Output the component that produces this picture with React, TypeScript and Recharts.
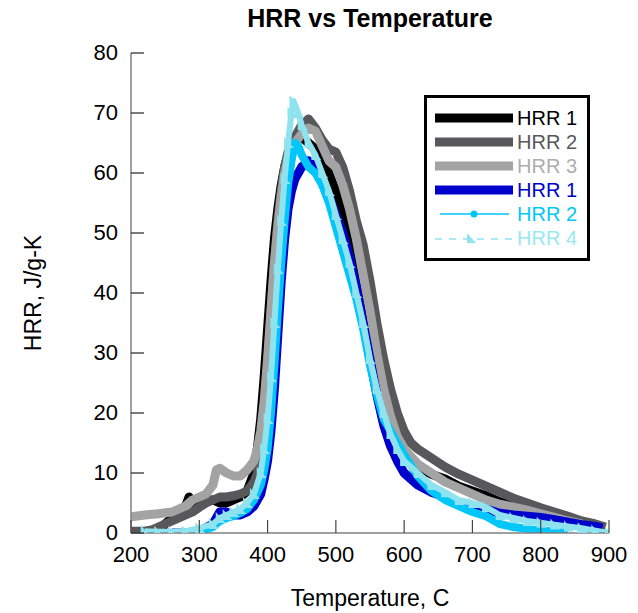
import { LineChart, Line, XAxis, YAxis } from 'recharts';

const FONT = '"Liberation Sans", Arial, Helvetica, sans-serif';

// temperature (C) and HRR (J/g-K), one pair of arrays per run
const blackT = [243, 250, 260, 270, 280, 285, 290, 300, 310, 320, 330, 340, 350, 360, 370, 380, 385, 390, 395, 400, 405, 410, 415, 420, 425, 430, 435, 440, 450, 460, 470, 480, 490, 500, 510, 520, 530, 540, 550, 560, 570, 580, 590, 600, 620, 640, 660, 680, 700, 720, 740, 760, 780, 800, 820, 840, 860];
const blackH = [0.5, 1.5, 2.5, 3.5, 4.5, 6, 5, 5, 5.5, 5.5, 5, 5, 5.5, 6, 7, 10, 14, 19, 26, 34, 42, 49, 54, 58, 61, 63, 64.5, 65.5, 66, 65, 64, 62, 60, 57, 54, 51, 47, 41, 33, 27, 21, 16.5, 14, 12.5, 10.8, 9.8, 9, 7.8, 7, 6.2, 5.2, 4.6, 4, 3.5, 3, 2.3, 1.5];

const darkT = [200, 210, 220, 230, 240, 250, 260, 270, 280, 290, 300, 310, 320, 330, 340, 350, 360, 370, 380, 385, 390, 395, 400, 405, 410, 415, 420, 425, 430, 440, 450, 460, 470, 480, 490, 500, 510, 520, 530, 540, 550, 560, 570, 580, 590, 600, 610, 620, 640, 660, 680, 700, 720, 740, 760, 780, 800, 820, 840, 860, 880, 895];
const darkH = [0.3, 0.3, 0.3, 0.5, 1, 1.5, 2, 2.5, 3, 3.5, 4.3, 5, 5.5, 6, 6, 6.2, 6.5, 7, 8.5, 10, 14, 20, 28, 37, 45, 52, 57, 61, 63.5, 66, 68, 69, 67.5, 65.5, 64, 63.5, 61, 57, 52, 48, 42, 35, 29, 24, 20, 17, 15, 14, 12.5, 11, 9.8, 8.8, 7.8, 6.8, 5.8, 5, 4.2, 3.5, 2.8, 2, 1.5, 1];

const lightT = [200, 220, 240, 260, 270, 280, 290, 300, 310, 320, 325, 330, 340, 350, 360, 370, 380, 385, 390, 395, 400, 405, 410, 415, 420, 425, 430, 440, 450, 460, 470, 480, 490, 500, 510, 520, 530, 540, 550, 560, 570, 580, 590, 600, 620, 640, 660, 680, 700, 720, 740, 760, 780, 800, 820, 840, 860];
const lightH = [2.7, 3, 3.2, 3.5, 4, 4.5, 5.5, 6, 6.5, 8, 10.5, 10.8, 10, 9.5, 9.5, 10.5, 12, 14, 17, 22, 29, 37, 45, 51, 56, 60, 62.5, 65, 66.5, 67.5, 67, 64.5, 62, 61, 58, 54, 49, 43, 37, 30, 24, 19.5, 16, 14, 11.5, 10, 8.5, 7.5, 6.5, 5.5, 4.8, 4.3, 3.8, 3.2, 2.6, 2, 1.5];

const blueT = [260, 280, 300, 320, 330, 340, 350, 360, 370, 380, 390, 395, 400, 405, 410, 415, 420, 425, 430, 435, 440, 450, 460, 470, 480, 490, 500, 510, 520, 530, 540, 550, 560, 570, 580, 590, 600, 620, 640, 660, 680, 700, 720, 740, 760, 780, 800, 820, 840, 860, 880, 890];
const blueH = [0, 0, 0.3, 1.5, 3.5, 3.5, 3, 3, 3.5, 4.5, 6.5, 9, 12, 17, 24, 33, 42, 49, 54, 57, 59, 61, 62, 61, 59, 56, 53, 50, 46, 41, 35, 29, 23, 18, 14.5, 12, 10, 8, 6.8, 6, 5, 4.5, 4, 3.3, 3, 2.8, 2.6, 2.2, 1.8, 1.4, 1.1, 0.8];

const cyanT = [250, 270, 300, 320, 330, 340, 350, 360, 370, 380, 390, 395, 400, 405, 410, 415, 420, 425, 430, 435, 440, 445, 450, 460, 470, 480, 490, 500, 510, 520, 530, 540, 550, 560, 570, 580, 590, 600, 620, 640, 660, 680, 700, 720, 740, 760, 780, 800, 820, 840];
const cyanH = [0, 0, 0.2, 1, 2, 2.5, 2.8, 3.3, 4, 5.5, 8, 10.5, 14, 20, 28, 37, 45, 52, 58, 62, 65, 64.5, 63, 61, 60, 58, 55, 51, 47, 43, 39, 34, 28, 23, 19, 17, 15, 13, 9.5, 7, 5.5, 4.5, 3.5, 2.8, 1.5, 1, 0.7, 0.4, 0.2, 0];

const paleT = [220, 240, 260, 280, 300, 320, 330, 340, 350, 360, 370, 380, 390, 395, 400, 405, 410, 415, 420, 425, 430, 435, 438, 445, 450, 460, 470, 480, 490, 500, 510, 520, 530, 540, 550, 560, 570, 580, 590, 600, 620, 640, 660, 680, 700, 720, 740, 760, 780, 800, 820, 840, 860, 880, 900];
const paleH = [0.3, 0.2, 0.2, 0.3, 0.8, 1.5, 2.5, 3, 3.5, 4, 5, 6.5, 10, 14, 19, 26, 35, 44, 52, 59, 65, 70, 72, 70, 68, 65, 63, 60, 57, 53, 49, 45, 40, 35, 29, 24, 20, 16.5, 14, 12, 10, 8, 6.8, 5.5, 5, 4.3, 3, 2.5, 2, 1.7, 1.4, 1.1, 0.8, 0.4, 0];

const xTicks = [200, 300, 400, 500, 600, 700, 800, 900];
const yTicks = [0, 10, 20, 30, 40, 50, 60, 70, 80];

const zip = (t: number[], h: number[]) => t.map((v, i) => ({ t: v, h: h[i] }));

const series = [
  { key: 'b1', name: 'HRR 1', data: zip(blackT, blackH), color: '#000000', text: '#000000', width: 9, kind: 'thick' },
  { key: 'g2', name: 'HRR 2', data: zip(darkT, darkH), color: '#58585a', text: '#58585a', width: 9, kind: 'thick' },
  { key: 'g3', name: 'HRR 3', data: zip(lightT, lightH), color: '#a3a3a3', text: '#adadad', width: 9, kind: 'thick' },
  { key: 'u1', name: 'HRR 1', data: zip(blueT, blueH), color: '#0000cc', text: '#0000cc', width: 9, kind: 'thick' },
  { key: 'c2', name: 'HRR 2', data: zip(cyanT, cyanH), color: '#00c6fa', text: '#00c6fa', width: 8, kind: 'dot' },
  { key: 'p4', name: 'HRR 4', data: zip(paleT, paleH), color: '#8fe3ee', text: '#99e8f0', width: 6, kind: 'tri' },
];

function XTick(props: any) {
  const { x, y, payload } = props;
  return (
    <g>
      <line x1={x} y1={y} x2={x} y2={y - 13} stroke="#444" strokeWidth={1.2} />
      <text x={x} y={y + 29} textAnchor="middle" fontSize={22} fontFamily={FONT} fill="#000">
        {payload.value}
      </text>
    </g>
  );
}

function YTick(props: any) {
  const { x, y, payload } = props;
  return (
    <g>
      <line x1={x} y1={y} x2={x + 13} y2={y} stroke="#222" strokeWidth={1.2} />
      <text x={x - 13} y={y + 7} textAnchor="end" fontSize={22} fontFamily={FONT} fill="#000">
        {payload.value}
      </text>
    </g>
  );
}

const triangleDot = (color: string) => (p: any) => {
  const { cx, cy, index } = p;
  if (cx == null || cy == null) return <g key={`t-${index}`} />;
  return (
    <polygon
      key={`t-${index}`}
      points={`${cx - 4},${cy - 6} ${cx - 4},${cy + 5} ${cx + 6},${cy + 5}`}
      fill={color}
    />
  );
};

function LegendBox() {
  return (
    <div
      style={{
        position: 'absolute',
        left: 424,
        top: 95,
        width: 166,
        height: 166,
        boxSizing: 'border-box',
        border: '3px solid #000',
        background: '#fff',
        fontFamily: FONT,
      }}
    >
      {series.map((s, i) => (
        <div key={s.key} style={{ position: 'absolute', left: 8, top: 8 + i * 24, height: 24, display: 'flex', alignItems: 'center' }}>
          <svg width={80} height={24}>
            {s.kind === 'thick' && <line x1={0} y1={12} x2={78} y2={12} stroke={s.color} strokeWidth={9} />}
            {s.kind === 'dot' && (
              <g>
                <line x1={5} y1={12} x2={74} y2={12} stroke={s.color} strokeWidth={1.5} />
                <circle cx={39} cy={12} r={3.5} fill={s.color} />
              </g>
            )}
            {s.kind === 'tri' && (
              <g>
                <line x1={0} y1={13} x2={78} y2={13} stroke={s.color} strokeWidth={1.5} strokeDasharray="7 7" />
                <polygon points="32,7 32,17 41,17" fill={s.color} />
              </g>
            )}
          </svg>
          <span style={{ fontSize: 20, color: s.text, marginLeft: 2, lineHeight: '24px' }}>{s.name}</span>
        </div>
      ))}
    </div>
  );
}

export default function App() {
  return (
    <div style={{ position: 'absolute', left: 0, top: 0, width: 638, height: 613, background: '#fff' }}>
      <div
        style={{
          position: 'absolute',
          left: 131,
          width: 478,
          top: 4,
          textAlign: 'center',
          fontFamily: FONT,
          fontWeight: 'bold',
          fontSize: 25,
        }}
      >
        HRR vs Temperature
      </div>
      <LineChart width={638} height={613} margin={{ top: 53, right: 29, bottom: 10, left: 20 }}>
        <XAxis
          type="number"
          dataKey="t"
          domain={[200, 900]}
          ticks={xTicks}
          allowDataOverflow
          height={70}
          tickSize={0}
          tickMargin={0}
          tickLine={false}
          axisLine={{ stroke: '#808080', strokeWidth: 1.5 }}
          tick={<XTick />}
          label={(p: any) => {
            const vb = p.viewBox || { x: 131, y: 533, width: 478 };
            return (
              <text x={vb.x + vb.width / 2} y={606} textAnchor="middle" fontSize={23} fontFamily={FONT} fill="#000">
                Temperature, C
              </text>
            );
          }}
        />
        <YAxis
          type="number"
          dataKey="h"
          domain={[0, 80]}
          ticks={yTicks}
          allowDataOverflow
          width={111}
          tickSize={0}
          tickMargin={0}
          tickLine={false}
          axisLine={{ stroke: '#808080', strokeWidth: 1.5 }}
          tick={<YTick />}
          label={() => (
            <text
              x={33}
              y={293}
              transform="rotate(-90, 33, 293)"
              textAnchor="middle"
              dominantBaseline="central"
              fontSize={23}
              fontFamily={FONT}
              fill="#000"
            >
              HRR, J/g-K
            </text>
          )}
        />
        {series.map((s) => (
          <Line
            key={s.key}
            data={s.data}
            dataKey="h"
            name={s.name}
            type="linear"
            stroke={s.color}
            strokeWidth={s.width}
            strokeLinejoin="round"
            dot={s.kind === 'tri' ? triangleDot(s.color) : false}
            activeDot={false}
            isAnimationActive={false}
          />
        ))}
      </LineChart>
      <LegendBox />
    </div>
  );
}
